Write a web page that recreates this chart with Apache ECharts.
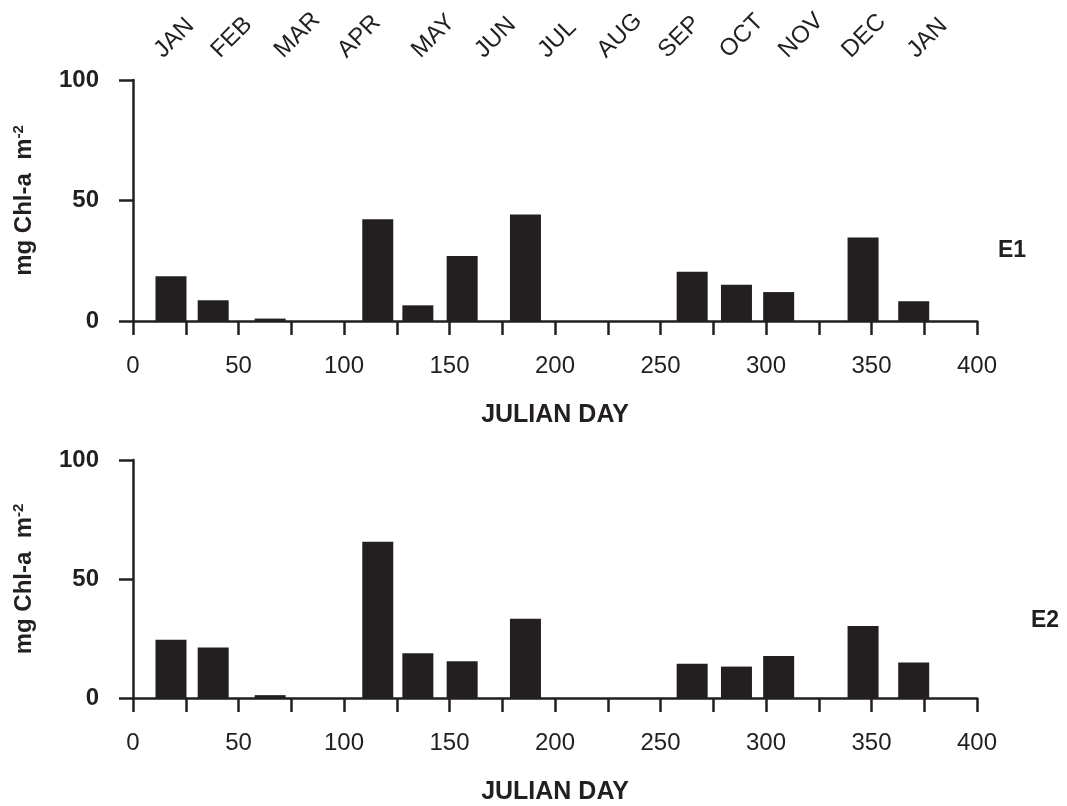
<!DOCTYPE html>
<html>
<head>
<meta charset="utf-8">
<script src="https://cdn.jsdelivr.net/npm/echarts@6/dist/echarts.min.js"></script>
<style>
html,body{margin:0;padding:0;background:#fff;}
#chart{width:1067px;height:806px;}
</style>
</head>
<body>
<div id="chart"></div>
<script>
// Sampling days (Julian day) and chlorophyll-a values
const sampleDays = [18, 38, 65, 116, 135, 156, 186, 265, 286, 306, 346, 370];
const e1Values = [18.6, 8.6, 1.0, 42.2, 6.5, 27.0, 44.2, 20.4, 15.0, 12.0, 34.6, 8.2];
const e2Values = [24.5, 21.2, 1.2, 65.6, 18.8, 15.4, 33.3, 14.4, 13.2, 17.6, 30.2, 14.9];
const monthNames = ['JAN','FEB','MAR','APR','MAY','JUN','JUL','AUG','SEP','OCT','NOV','DEC','JAN'];
const monthPos = [12, 39, 69, 99, 134, 164, 194, 222, 251, 280, 308, 338, 369];
const xTickLabels = [0, 50, 100, 150, 200, 250, 300, 350, 400];
const yTickLabels = [0, 50, 100];

const INK = '#231f20';
const FONT = 'Liberation Sans, Arial, sans-serif';

function xAxisFor(grid) {
  return {
    type: 'value', gridIndex: grid, min: 0, max: 400, interval: 25,
    name: 'JULIAN DAY', nameLocation: 'middle', nameGap: 82,
    nameTextStyle: {fontFamily: FONT, fontSize: 25, fontWeight: 'bold', color: INK},
    axisLine: {show: true, onZero: false, lineStyle: {color: INK, width: 2.5}},
    axisTick: {show: true, inside: false, length: 14, lineStyle: {color: INK, width: 2.5}},
    axisLabel: {
      fontFamily: FONT, fontSize: 24, color: INK, margin: 33,
      formatter: v => xTickLabels.indexOf(v) >= 0 ? String(v) : ''
    },
    splitLine: {show: false}
  };
}
function yAxisFor(grid) {
  return {
    type: 'value', gridIndex: grid, min: 0, max: 100, interval: 50,
    name: '{a|mg Chl-a  m}{s|-2}', nameLocation: 'middle', nameRotate: 90, nameGap: 96,
    nameTextStyle: {
      color: INK,
      rich: {
        a: {fontFamily: FONT, fontSize: 24, fontWeight: 'bold', color: INK, lineHeight: 26},
        s: {fontFamily: FONT, fontSize: 15, fontWeight: 'bold', color: INK, verticalAlign: 'top', lineHeight: 26, padding: [0, 0, 10, 0]}
      }
    },
    axisLine: {show: true, lineStyle: {color: INK, width: 2.5}},
    axisTick: {show: true, inside: false, length: 14, lineStyle: {color: INK, width: 2.5}},
    axisLabel: {
      fontFamily: FONT, fontSize: 24, fontWeight: 'bold', color: INK, margin: 34,
      formatter: v => yTickLabels.indexOf(v) >= 0 ? String(v) : ''
    },
    splitLine: {show: false}
  };
}

const topMonthAxis = {
  type: 'value', gridIndex: 0, position: 'top', min: 0, max: 400,
  axisLine: {show: false}, axisTick: {show: false}, splitLine: {show: false},
  axisLabel: {
    show: true, customValues: monthPos, rotate: 45, margin: 26,
    fontFamily: FONT, fontSize: 24, color: INK,
    formatter: v => monthNames[monthPos.indexOf(v)]
  }
};

const chart = echarts.init(document.getElementById('chart'), null, {renderer: 'canvas'});
chart.setOption({
  animation: false,
  backgroundColor: '#ffffff',
  title: [
    {text: 'E1', left: 998, top: 239, textStyle: {fontFamily: FONT, fontSize: 23, fontWeight: 'bold', color: INK}, padding: 0},
    {text: 'E2', left: 1031, top: 609, textStyle: {fontFamily: FONT, fontSize: 23, fontWeight: 'bold', color: INK}, padding: 0}
  ],
  grid: [
    {left: 133, right: 90, top: 80, height: 241},
    {left: 133, right: 90, top: 460, height: 241}
  ],
  xAxis: [xAxisFor(0), xAxisFor(1), topMonthAxis],
  yAxis: [yAxisFor(0), yAxisFor(1)],
  series: [
    {
      type: 'bar', xAxisIndex: 0, yAxisIndex: 0, barWidth: 31,
      itemStyle: {color: INK},
      data: sampleDays.map((d, i) => [d, e1Values[i]])
    },
    {
      type: 'bar', xAxisIndex: 1, yAxisIndex: 1, barWidth: 31,
      itemStyle: {color: INK},
      data: sampleDays.map((d, i) => [d, e2Values[i]])
    }
  ]
});
</script>
</body>
</html>
